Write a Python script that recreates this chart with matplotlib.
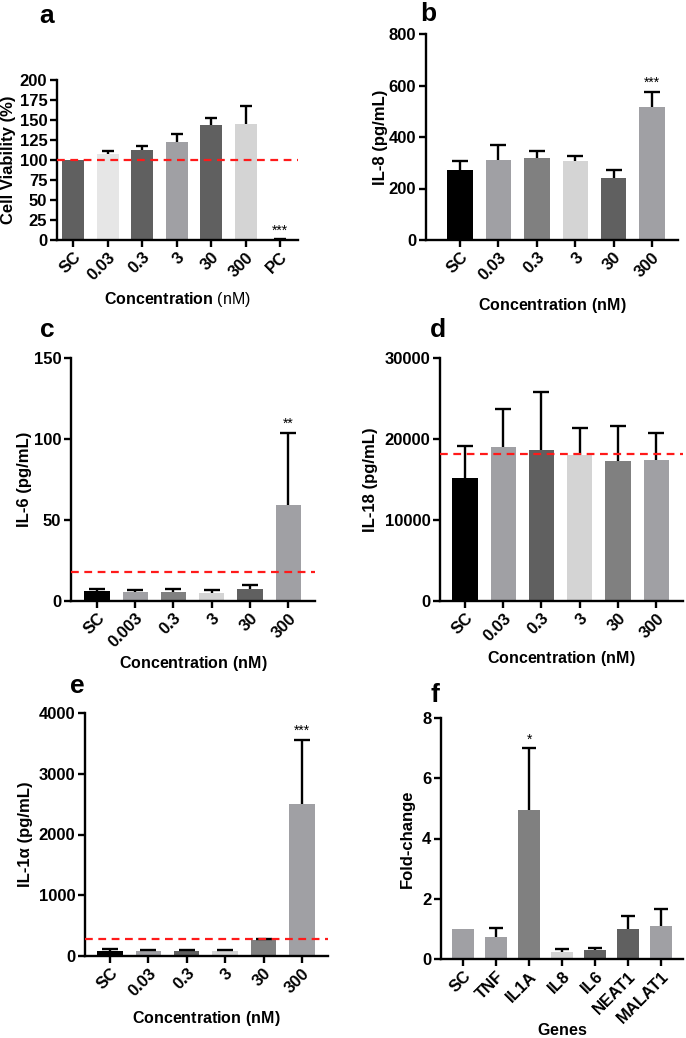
import matplotlib
matplotlib.use("Agg")
import matplotlib.pyplot as plt
import numpy as np

plt.rcParams['font.family'] = ['Liberation Sans', 'DejaVu Sans']
plt.rcParams['mathtext.fontset'] = 'custom'
plt.rcParams['mathtext.rm'] = 'Liberation Sans'
plt.rcParams['mathtext.bf'] = 'Liberation Sans:bold'

W, H = 686, 1038

# ---------------- data ----------------
a_cats = ["SC", "0.03", "0.3", "3", "30", "300", "PC"]
a_vals = [100, 107, 113, 122, 144, 145, 0.5]
a_errs = [0, 4, 4, 10, 9, 22, 1]
a_cols = ["#606060", "#e6e6e6", "#606060", "#a0a0a4", "#606060", "#d4d4d4", "#606060"]

b_cats = ["SC", "0.03", "0.3", "3", "30", "300"]
b_vals = [272, 310, 320, 305, 242, 517]
b_errs = [33, 57, 24, 22, 30, 59]
b_cols = ["#000000", "#a0a0a4", "#808080", "#d4d4d4", "#606060", "#a0a0a4"]

c_cats = ["SC", "0.003", "0.3", "3", "30", "300"]
c_vals = [6, 5.5, 5.5, 5, 7.5, 59]
c_errs = [1.5, 1.5, 2, 1.5, 2.5, 44.5]
c_cols = ["#000000", "#a0a0a4", "#808080", "#d4d4d4", "#606060", "#a0a0a4"]

d_cats = ["SC", "0.03", "0.3", "3", "30", "300"]
d_vals = [15200, 19000, 18700, 18000, 17300, 17400]
d_errs = [3900, 4700, 7100, 3400, 4300, 3400]
d_cols = ["#000000", "#a0a0a4", "#606060", "#d4d4d4", "#808080", "#a0a0a4"]

e_cats = ["SC", "0.03", "0.3", "3", "30", "300"]
e_vals = [90, 85, 85, 80, 270, 2500]
e_errs = [30, 15, 15, 25, 15, 1050]
e_cols = ["#000000", "#a0a0a4", "#606060", "#d4d4d4", "#808080", "#a0a0a4"]

f_cats = ["SC", "TNF", "IL1A", "IL8", "IL6", "NEAT1", "MALAT1"]
f_vals = [1.0, 0.72, 4.93, 0.22, 0.30, 0.98, 1.10]
f_errs = [0, 0.31, 2.07, 0.11, 0.06, 0.45, 0.57]
f_cols = ["#a0a0a4", "#a0a0a4", "#808080", "#d4d4d4", "#606060", "#606060", "#a0a0a4"]

fig = plt.figure(figsize=(W / 100, H / 100), dpi=100)


def rect(l, r, t, b):
    return [l / W, 1 - b / H, (r - l) / W, (b - t) / H]


def panel(box, cats, vals, errs, cols, ylim, yticks, ylabel, xlabel, xlim,
          width, capsize, ylabel_right, xlabel_top, refline=None, star=None,
          letter=None, letter_xy=None):
    l, r, t, b = box
    ax = fig.add_axes(rect(*box))
    x = np.arange(len(cats))
    ax.bar(x, vals, width=width, color=cols, zorder=2)
    vals_a = np.asarray(vals, float)
    errs_a = np.asarray(errs, float)
    m = errs_a > 0
    eb = ax.errorbar(x[m], vals_a[m], yerr=[np.zeros(m.sum()), errs_a[m]],
                     fmt='none', ecolor='black', elinewidth=1.7,
                     capsize=capsize, capthick=1.7, zorder=3)
    # hide the lower caps (only upper error bars are shown)
    eb[1][0].set_visible(False)
    if refline is not None:
        ax.axhline(refline, color='#ff1a1a', lw=1.6, ls=(0, (3.5, 2.5)), zorder=4)
    if star is not None:
        idx, txt, yv = star
        ax.text(idx, yv, txt, ha='center', va='bottom', fontsize=10)
    ax.set_xlim(*xlim)
    ax.set_ylim(*ylim)
    ax.set_yticks(yticks)
    ax.set_yticklabels([str(v) for v in yticks], fontweight='bold', fontsize=12)
    ax.set_xticks(x)
    ax.set_xticklabels(cats, rotation=45, ha='right', rotation_mode='anchor',
                       fontweight='bold', fontsize=12)
    for s in ['top', 'right']:
        ax.spines[s].set_visible(False)
    for s in ['left', 'bottom']:
        ax.spines[s].set_linewidth(1.7)
    ax.tick_params(axis='both', direction='out', length=5, width=1.7, pad=2)
    ax.set_ylabel(ylabel, fontweight='bold', fontsize=12)
    ax.yaxis.set_label_coords((ylabel_right - l) / (r - l), 0.5)
    ax.set_xlabel(xlabel, fontsize=11.5)
    ax.xaxis.set_label_coords(0.5, -(xlabel_top - b) / (b - t))
    ax.xaxis.label.set_va('top')
    if letter is not None:
        fig.text(letter_xy[0] / W, 1 - letter_xy[1] / H, letter, fontsize=19,
                 fontweight='bold', ha='center', va='center')
    return ax


conc = r"$\mathbf{Concentration}$ (nM)"
conc_b = r"$\mathbf{Concentration\ (nM)}$"

panel((57, 298, 80, 240), a_cats, a_vals, a_errs, a_cols, (0, 200),
      [0, 25, 50, 75, 100, 125, 150, 175, 200], "Cell Viability (%)", conc,
      (-0.47, 6.52), 0.64, 4, 16, 290, refline=100, star=(6, "***", 3),
      letter="a", letter_xy=(47, 16))

panel((426, 678, 34, 240), b_cats, b_vals, b_errs, b_cols, (0, 800),
      [0, 200, 400, 600, 800], "IL-8 (pg/mL)", conc_b,
      (-0.89, 5.68), 0.66, 6, 388, 296, star=(5, "***", 585),
      letter="b", letter_xy=(428, 14))

panel((71, 315, 358, 601), c_cats, c_vals, c_errs, c_cols, (0, 150),
      [0, 50, 100, 150], "IL-6 (pg/mL)", conc_b,
      (-0.68, 5.70), 0.66, 6, 32, 654, refline=18, star=(5, "**", 105),
      letter="c", letter_xy=(47, 330))

panel((440, 683, 358, 601), d_cats, d_vals, d_errs, d_cols, (0, 30000),
      [0, 10000, 20000, 30000], "IL-18 (pg/mL)", conc_b,
      (-0.65, 5.70), 0.66, 6, 378, 649, refline=18200,
      letter="d", letter_xy=(438, 330))

panel((85, 328, 713, 956), e_cats, e_vals, e_errs, e_cols, (0, 4000),
      [0, 1000, 2000, 3000, 4000], "IL-1α (pg/mL)", conc_b,
      (-0.65, 5.68), 0.66, 6, 33, 1009, refline=280, star=(5, "***", 3600),
      letter="e", letter_xy=(77, 686))

panel((441, 683, 718, 959), f_cats, f_vals, f_errs, f_cols, (0, 8),
      [0, 2, 4, 6, 8], "Fold-change", r"$\mathbf{Genes}$",
      (-0.67, 6.67), 0.66, 5, 415, 1022, star=(2, "*", 7.05),
      letter="f", letter_xy=(435, 695))

fig.savefig("out.png", dpi=100)
